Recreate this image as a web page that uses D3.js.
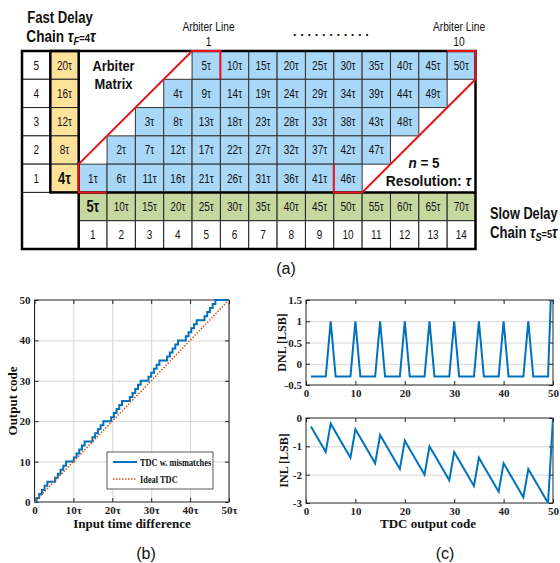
<!DOCTYPE html>
<html><head><meta charset="utf-8">
<script src="https://cdn.jsdelivr.net/npm/d3@7"></script>
<style>body{margin:0;background:#fff} svg{display:block}</style>
</head><body>
<svg id="c" width="560" height="563"></svg>
<script>
// ---------------- DATA ----------------
// (a) arbiter matrix
const matrixRows = [5, 4, 3, 2, 1];
const fastChain = [20, 16, 12, 8, 4];            // tau units, per row
const matrixCols = [1, 2, 3, 4, 5, 6, 7, 8, 9, 10, 11, 12, 13, 14];
const slowChain = [5, 10, 15, 20, 25, 30, 35, 40, 45, 50, 55, 60, 65, 70];
const rowStartCol = [5, 4, 3, 2, 1];
const arbiterValues = [
  [5, 10, 15, 20, 25, 30, 35, 40, 45, 50],
  [4, 9, 14, 19, 24, 29, 34, 39, 44, 49],
  [3, 8, 13, 18, 23, 28, 33, 38, 43, 48],
  [2, 7, 12, 17, 22, 27, 32, 37, 42, 47],
  [1, 6, 11, 16, 21, 26, 31, 36, 41, 46]
];
// (b) transfer curve: input time (tau) at which each output code is reached
const outputCodes = [1,2,3,4,5,6,7,8,9,10,11,12,13,14,15,16,17,18,19,20,21,22,23,24,25,26,27,28,29,30,31,32,33,34,35,36,37,38,39,40,41,42,43,44,45,46,47,48,49,50];
const transitionTimes = [0.5,1.2,1.9,2.6,3.3,5.3,6.0,6.7,7.4,8.1,10.1,10.8,11.5,12.2,12.9,14.9,15.6,16.3,17.0,17.7,19.7,20.4,21.1,21.8,22.5,24.5,25.2,25.9,26.6,27.3,29.3,30.0,30.7,31.4,32.1,34.1,34.8,35.5,36.2,36.9,38.9,39.6,40.3,41.0,41.7,43.7,44.4,45.1,45.8,46.5];
const idealTime = [0, 50];
const idealCode = [0, 50];
const xTicksB = [0, 10, 20, 30, 40, 50];
const xTickLabelsB = ["0", "10τ", "20τ", "30τ", "40τ", "50τ"];
const yTicksB = [0, 10, 20, 30, 40, 50];
// (c) DNL / INL
const dnl = [-0.3,-0.3,-0.3,-0.3,1,-0.3,-0.3,-0.3,-0.3,1,-0.3,-0.3,-0.3,-0.3,1,-0.3,-0.3,-0.3,-0.3,1,-0.3,-0.3,-0.3,-0.3,1,-0.3,-0.3,-0.3,-0.3,1,-0.3,-0.3,-0.3,-0.3,1,-0.3,-0.3,-0.3,-0.3,1,-0.3,-0.3,-0.3,-0.3,1,-0.3,-0.3,-0.3,-0.3,3];
const inl = [-0.3,-0.6,-0.9,-1.2,-0.2,-0.5,-0.8,-1.1,-1.4,-0.4,-0.7,-1.0,-1.3,-1.6,-0.6,-0.9,-1.2,-1.5,-1.8,-0.8,-1.1,-1.4,-1.7,-2.0,-1.0,-1.3,-1.6,-1.9,-2.2,-1.2,-1.5,-1.8,-2.1,-2.4,-1.4,-1.7,-2.0,-2.3,-2.6,-1.6,-1.9,-2.2,-2.5,-2.8,-1.8,-2.1,-2.4,-2.7,-3.0,0];
const xTicksC = [0, 10, 20, 30, 40, 50];
const yTicksDNL = [-0.5, 0, 0.5, 1, 1.5];
const yTicksINL = [-3, -2, -1, 0];

// ---------------- STYLE ----------------
const FN = '"Liberation Sans",Arial,sans-serif';
const FL = '"Liberation Sans",Arial,sans-serif';
const FS = '"Liberation Serif","Times New Roman",serif';
const BLUE = "#0072BD", ORANGE = "#D95319", RED = "#E8141B";
const svg = d3.select("#c");

// ---------------- (a) TABLE ----------------
const cx = d3.scaleBand().domain(["idx", "fast", ...matrixCols]).range([22, 475.5]);
const ry = d3.scaleBand().domain([...matrixRows, "slow", "num"]).range([51, 249]);
const bw = cx.bandwidth(), bh = ry.bandwidth();
const gA = svg.append("g");

function cell(x, y, w, h, fill, stroke, sw) {
  gA.append("rect").attr("x", x).attr("y", y).attr("width", w).attr("height", h)
    .attr("fill", fill).attr("stroke", stroke).attr("stroke-width", sw);
}
function ctext(x, y, txt, size, bold) {
  gA.append("text").attr("transform", `translate(${x},${y}) scale(0.8,1)`).attr("dy", "0.35em")
    .attr("text-anchor", "middle").attr("font-family", FN)
    .attr("font-size", size).attr("font-weight", bold ? "bold" : "normal")
    .attr("fill", "#111").text(txt);
}

matrixRows.forEach((r, i) => {
  cell(cx("idx"), ry(r), bw, bh, "#fff", "#222", 1);
  ctext(cx("idx") + bw / 2, ry(r) + bh / 2, r, 12.5, false);
  cell(cx("fast"), ry(r), bw, bh, "#FFE29A", "#222", 1);
  ctext(cx("fast") + bw / 2, ry(r) + bh / 2, fastChain[i] + "τ", r === 1 ? 16 : 12.5, r === 1);
});
cell(cx("idx"), ry("slow"), 2 * bw, 2 * bh, "#fff", "#222", 1);

arbiterValues.forEach((vals, i) => {
  const r = matrixRows[i];
  vals.forEach((v, j) => {
    const c = rowStartCol[i] + j;
    cell(cx(c), ry(r), bw, bh, "#A8D7F8", "#333", 1);
    ctext(cx(c) + bw / 2, ry(r) + bh / 2, v + "τ", 12.5, false);
  });
});
slowChain.forEach((v, j) => {
  const c = matrixCols[j];
  cell(cx(c), ry("slow"), bw, bh, "#C5D8A0", "#222", 1);
  ctext(cx(c) + bw / 2, ry("slow") + bh / 2, v + "τ", j === 0 ? 16 : 12.5, j === 0);
});
matrixCols.forEach(c => {
  cell(cx(c), ry("num"), bw, bh, "#fff", "#222", 1);
  ctext(cx(c) + bw / 2, ry("num") + bh / 2, c, 12.5, false);
});

// thick borders
gA.append("rect").attr("x", cx("fast")).attr("y", ry(5)).attr("width", bw).attr("height", 5 * bh)
  .attr("fill", "none").attr("stroke", "#000").attr("stroke-width", 2.5);
gA.append("line").attr("x1", cx(1)).attr("x2", cx(14) + bw).attr("y1", ry("slow")).attr("y2", ry("slow"))
  .attr("stroke", "#000").attr("stroke-width", 2.5);
gA.append("line").attr("x1", cx(1)).attr("x2", cx(1)).attr("y1", ry("slow")).attr("y2", ry("num") + bh)
  .attr("stroke", "#000").attr("stroke-width", 2.5);
gA.append("rect").attr("x", cx("idx")).attr("y", ry(5)).attr("width", cx(14) + bw - cx("idx"))
  .attr("height", ry("num") + bh - ry(5)).attr("fill", "none").attr("stroke", "#000").attr("stroke-width", 2.5);

// red arbiter lines
const p1 = d3.path();
p1.moveTo(cx(5) + bw, ry(5) + bh); p1.lineTo(cx(5) + bw, ry(5)); p1.lineTo(cx(5), ry(5));
p1.lineTo(cx(1), ry(1)); p1.lineTo(cx(1), ry(1) + bh); p1.lineTo(cx(1) + bw, ry(1) + bh);
const p2 = d3.path();
p2.moveTo(cx(14), ry(5)); p2.lineTo(cx(14) + bw, ry(5)); p2.lineTo(cx(14) + bw, ry(5) + bh);
p2.lineTo(cx(10) + bw, ry(1) + bh); p2.lineTo(cx(10), ry(1) + bh); p2.lineTo(cx(10), ry(1));
[p1, p2].forEach(p => gA.append("path").attr("d", p.toString()).attr("fill", "none")
  .attr("stroke", RED).attr("stroke-width", 2));

// text helper
function label(x, y, size, bold, anchor, parts, fam, sx) {
  const t = svg.append("text").attr("transform", `translate(${x},${y}) scale(${sx || 1},1)`)
    .attr("text-anchor", anchor || "middle")
    .attr("font-family", fam || FN).attr("font-size", size).attr("font-weight", bold ? "bold" : "normal")
    .attr("fill", "#111");
  parts.forEach(p => {
    const s = t.append("tspan").text(p.t);
    if (p.i) s.attr("font-style", "italic");
    if (p.sub) s.attr("font-size", size * 0.7).attr("dy", p.sub);
  });
  return t;
}
label(60, 23, 16, true, "middle", [{t: "Fast Delay"}], FN, 0.82);
label(61, 42, 16, true, "middle", [{t: "Chain "}, {t: "τ", i: 1}, {t: "F", i: 1, sub: 3}, {t: "=4", sub: -3}, {t: "τ", i: 1}], FN, 0.85);
label(208.5, 31, 12, false, "middle", [{t: "Arbiter Line"}], FN, 0.85);
label(208.5, 46, 12, false, "middle", [{t: "1"}], FN, 0.85);
label(459, 31, 12, false, "middle", [{t: "Arbiter Line"}], FN, 0.85);
label(459, 46, 12, false, "middle", [{t: "10"}], FN, 0.85);
label(331, 36, 13, true, "middle", [{t: ".  .  .  .  .  .  .  .  .  .  ."}], FN, 1);
label(113.5, 71, 15, true, "middle", [{t: "Arbiter"}], FN, 0.86);
label(113.5, 89, 15, true, "middle", [{t: "Matrix"}], FN, 0.86);
label(424, 168, 15, true, "middle", [{t: "n", i: 1}, {t: " = 5"}], FN, 0.9);
label(428.5, 186, 15, true, "middle", [{t: "Resolution: "}, {t: "τ", i: 1}], FN, 0.92);
label(490, 219, 16, true, "start", [{t: "Slow Delay"}], FN, 0.8);
label(490, 238, 16, true, "start", [{t: "Chain "}, {t: "τ", i: 1}, {t: "S", i: 1, sub: 3}, {t: "=5", sub: -3}, {t: "τ", i: 1}], FN, 0.82);
label(286, 274, 16, false, "middle", [{t: "(a)"}], FL);
label(146, 559, 16, false, "middle", [{t: "(b)"}], FL);
label(445, 559, 16, false, "middle", [{t: "(c)"}], FL);

// ---------------- axes helper ----------------
function frame(g, x, y, xt, yt, xfmt, yfmt, grid, showX) {
  const [x0, x1] = x.range(), [y0, y1] = y.range();
  if (grid.v) g.append("g").attr("transform", `translate(0,${y0})`)
    .call(d3.axisBottom(x).tickValues(xt).tickSize(-(y0 - y1)).tickFormat(""))
    .call(s => { s.select(".domain").remove(); s.selectAll("line").attr("stroke", "#d6d6d6"); });
  g.append("g").attr("transform", `translate(${x0},0)`)
    .call(d3.axisLeft(y).tickValues(grid.h).tickSize(-(x1 - x0)).tickFormat(""))
    .call(s => { s.select(".domain").remove(); s.selectAll("line").attr("stroke", "#d6d6d6"); });
  g.append("rect").attr("x", x0).attr("y", y1).attr("width", x1 - x0).attr("height", y0 - y1)
    .attr("fill", "none").attr("stroke", "#222").attr("stroke-width", 1);
  const st = s => {
    s.select(".domain").remove();
    s.selectAll("line").attr("stroke", "#222");
    s.selectAll("text").attr("font-family", FS).attr("font-weight", "bold").attr("font-size", 11).attr("fill", "#222");
  };
  g.append("g").attr("transform", `translate(0,${y0})`)
    .call(d3.axisBottom(x).tickValues(xt).tickSize(-4).tickPadding(4).tickFormat(showX ? xfmt : "")).call(st);
  g.append("g").attr("transform", `translate(0,${y1})`)
    .call(d3.axisTop(x).tickValues(xt).tickSize(-4).tickFormat("")).call(st);
  g.append("g").attr("transform", `translate(${x0},0)`)
    .call(d3.axisLeft(y).tickValues(yt).tickSize(-4).tickPadding(4).tickFormat(yfmt)).call(st);
  g.append("g").attr("transform", `translate(${x1},0)`)
    .call(d3.axisRight(y).tickValues(yt).tickSize(-4).tickFormat("")).call(st);
}

// ---------------- (b) ----------------
const gB = svg.append("g");
const xB = d3.scaleLinear().domain([0, 50]).range([34.5, 229]);
const yB = d3.scaleLinear().domain([0, 50]).range([502, 300]);
frame(gB, xB, yB, xTicksB, yTicksB, (d, i) => xTickLabelsB[i], d3.format("d"),
  {v: true, h: [10, 20, 30, 40]}, true);
const stepPts = [[0, 0]].concat(transitionTimes.map((t, i) => [t, outputCodes[i]])).concat([[50, 50]]);
gB.append("path").attr("d", d3.line().x(d => xB(d[0])).y(d => yB(d[1])).curve(d3.curveStepAfter)(stepPts))
  .attr("fill", "none").attr("stroke", BLUE).attr("stroke-width", 2);
gB.append("path").attr("d", d3.line().x(d => xB(d[0])).y(d => yB(d[1]))(idealTime.map((t, i) => [t, idealCode[i]])))
  .attr("fill", "none").attr("stroke", ORANGE).attr("stroke-width", 1.5).attr("stroke-dasharray", "1.5,1.5");
// legend
const lg = gB.append("g");
lg.append("rect").attr("x", 107).attr("y", 452).attr("width", 106).attr("height", 37)
  .attr("fill", "#fff").attr("stroke", "#333").attr("stroke-width", 0.8);
lg.append("line").attr("x1", 113).attr("x2", 137).attr("y1", 462).attr("y2", 462).attr("stroke", BLUE).attr("stroke-width", 2);
lg.append("line").attr("x1", 113).attr("x2", 137).attr("y1", 479).attr("y2", 479).attr("stroke", ORANGE)
  .attr("stroke-width", 1.5).attr("stroke-dasharray", "1.5,1.5");
label(140, 465.5, 9.5, true, "start", [{t: "TDC w. mismatches"}], FS, 0.88);
label(140, 482.5, 9.5, true, "start", [{t: "Ideal TDC"}], FS, 0.88);
label(132, 528, 13, true, "middle", [{t: "Input time difference"}], FS);
label(0, 0, 13, true, "middle", [{t: "Output code"}], FS).attr("transform", "translate(17,401) rotate(-90)");

// ---------------- (c) ----------------
const xC = d3.scaleLinear().domain([0, 50]).range([306, 553]);
const yD = d3.scaleLinear().domain([-0.5, 1.5]).range([385, 300]);
const yI = d3.scaleLinear().domain([-3, 0]).range([503, 418]);
const gD = svg.append("g"), gI = svg.append("g");
frame(gD, xC, yD, xTicksC, yTicksDNL, d3.format("d"), d => String(d), {v: false, h: [0, 0.5, 1]}, true);
frame(gI, xC, yI, xTicksC, yTicksINL, d3.format("d"), d => String(d), {v: false, h: [-2, -1]}, true);
svg.append("clipPath").attr("id", "clipD").append("rect").attr("x", 306).attr("y", 300).attr("width", 247).attr("height", 85);
svg.append("clipPath").attr("id", "clipI").append("rect").attr("x", 306).attr("y", 418).attr("width", 247).attr("height", 85);
gD.append("path").attr("clip-path", "url(#clipD)")
  .attr("d", d3.line().x((d, i) => xC(outputCodes[i])).y(d => yD(d))(dnl))
  .attr("fill", "none").attr("stroke", BLUE).attr("stroke-width", 2);
gI.append("path").attr("clip-path", "url(#clipI)")
  .attr("d", d3.line().x((d, i) => xC(outputCodes[i])).y(d => yI(d))(inl))
  .attr("fill", "none").attr("stroke", BLUE).attr("stroke-width", 2);
label(0, 0, 12, true, "middle", [{t: "DNL [LSB]"}], FS).attr("transform", "translate(286,342.5) rotate(-90)");
label(0, 0, 12, true, "middle", [{t: "INL [LSB]"}], FS).attr("transform", "translate(288,460.5) rotate(-90)");
label(428, 528, 13, true, "middle", [{t: "TDC output code"}], FS);
</script>
</body></html>
